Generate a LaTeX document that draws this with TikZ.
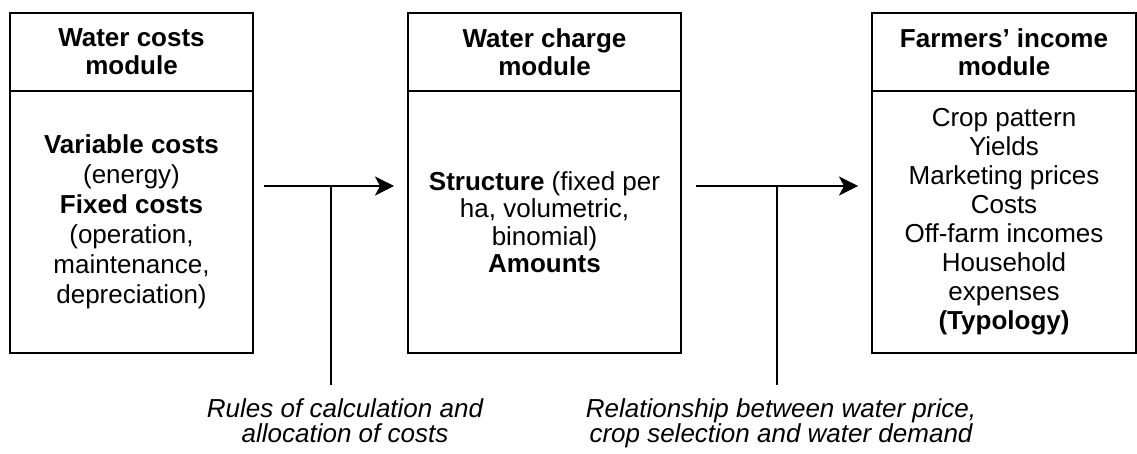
\documentclass[tikz,border=0pt]{standalone}
\usepackage{fontspec}
\setmainfont{Liberation Sans}
\usetikzlibrary{arrows.meta}
\begin{document}
\begin{tikzpicture}[x=1pt,y=-1pt,
  boxline/.style={draw=black,line width=2pt,rectangle,inner sep=0pt,outer sep=0pt,align=center},
  headbox/.style={boxline,minimum height=78pt,font=\fontsize{26}{28}\selectfont\bfseries},
  bodybox/.style={boxline,minimum height=262pt},
  flow/.style={line width=1.8pt,-{Stealth[length=19pt,width=19pt,inset=5pt]}},
  tie/.style={line width=1.8pt},
  note/.style={align=center,inner sep=0pt,font=\fontsize{26}{25}\selectfont\itshape}
]
\useasboundingbox (0,0) rectangle (1137,454);
% module boxes
\node[headbox,minimum width=243pt] (h1) at (131.5,52) {Water costs\\module};
\node[bodybox,minimum width=243pt,font=\fontsize{26}{30}\selectfont] (b1) at (131.5,222)
  {\textbf{Variable costs}\\(energy)\\\textbf{Fixed costs}\\(operation,\\maintenance,\\depreciation)};
\node[headbox,minimum width=273pt] (h2) at (544.5,52) {Water charge\\module};
\node[bodybox,minimum width=273pt,font=\fontsize{26}{27.5}\selectfont] (b2) at (544.5,222)
  {\textbf{Structure} (fixed per\\ha, volumetric,\\binomial)\\\textbf{Amounts}};
\node[headbox,minimum width=264pt] (h3) at (1004,52) {Farmers’ income\\module};
\node[bodybox,minimum width=264pt,font=\fontsize{26}{29}\selectfont] (b3) at (1004,222)
  {Crop pattern\\Yields\\Marketing prices\\Costs\\Off-farm incomes\\Household\\expenses\\\textbf{(Typology)}};
% arrows
\coordinate (a1s) at (264,186);
\coordinate (a1e) at (394,186);
\coordinate (a2s) at (696,186);
\coordinate (a2e) at (858,186);
\draw[flow] (a1s) -- (a1e);
\draw[flow] (a2s) -- (a2e);
% labels and ties
\node[note,anchor=north] (n1) at (345,398) {Rules of calculation and\\allocation of costs};
\node[note,anchor=north] (n2) at (781,398) {Relationship between water price,\\crop selection and water demand};
\coordinate (j1) at (331,186);
\coordinate (t1) at (331,385);
\coordinate (j2) at (777,186);
\coordinate (t2) at (777,385);
\draw[tie] (j1) -- (t1);
\draw[tie] (j2) -- (t2);
\end{tikzpicture}
\end{document}
